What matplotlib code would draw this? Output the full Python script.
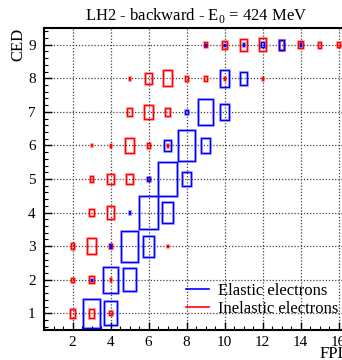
import matplotlib
matplotlib.use("Agg")
import matplotlib.pyplot as plt
from matplotlib.patches import Rectangle
from matplotlib.lines import Line2D
from matplotlib.ticker import MultipleLocator

plt.rcParams['font.family'] = ['Liberation Serif', 'DejaVu Serif']
plt.rcParams['mathtext.fontset'] = 'custom'
plt.rcParams['mathtext.rm'] = 'Liberation Serif'

# Elastic electrons (blue): FPL, CED, relative bin content
el_fpl = [3, 4, 3, 4, 5, 4, 5, 6, 5, 6, 7, 6, 7, 8, 7, 8, 9, 8, 9, 10, 10, 11, 9, 10, 11, 12, 13, 14]
el_ced = [1, 1, 2, 2, 2, 3, 3, 3, 4, 4, 4, 5, 5, 5, 6, 6, 6, 7, 7, 7, 8, 8, 9, 9, 9, 9, 9, 9]
el_val = [0.87, 0.72, 0.05, 0.77, 0.67, 0.10, 0.92, 0.62, 0.10, 1.00, 0.62, 0.14, 1.00, 0.44,
          0.35, 0.92, 0.47, 0.11, 0.78, 0.50, 0.50, 0.38, 0.06, 0.06, 0.09, 0.14, 0.29, 0.10]

# Inelastic electrons (red)
in_fpl = [2, 3, 4, 2, 3, 4, 2, 3, 4, 7, 3, 4, 3, 4, 5, 6,
          3, 4, 5, 6, 7, 5, 6, 7, 5, 6, 7, 8, 9, 10, 12,
          9, 10, 11, 12, 13, 14, 15, 16]
in_ced = [1, 1, 1, 2, 2, 2, 3, 3, 3, 3, 4, 4, 5, 5, 5, 5,
          6, 6, 6, 6, 6, 7, 7, 7, 8, 8, 8, 8, 8, 8, 8,
          9, 9, 9, 9, 9, 9, 9, 9]
in_val = [0.27, 0.27, 0.12, 0.12, 0.22, 0.10, 0.16, 0.48, 0.12, 0.08, 0.22, 0.41, 0.17, 0.32, 0.32, 0.06,
          0.06, 0.10, 0.47, 0.15, 0.10, 0.25, 0.43, 0.22, 0.10, 0.34, 0.47, 0.16, 0.16, 0.08, 0.08,
          0.16, 0.25, 0.35, 0.38, 0.30, 0.22, 0.18, 0.15]

x_ticks = [2, 4, 6, 8, 10, 12, 14, 16]
y_ticks = [1, 2, 3, 4, 5, 6, 7, 8, 9]

fig = plt.figure(figsize=(3.42, 3.6), dpi=100)
ax = fig.add_axes([44 / 342, 30 / 360, 304 / 342, 302 / 360])
ax.set_xlim(0.5, 16.5)
ax.set_ylim(0.5, 9.5)

ax.grid(True, which='major', linestyle=(0, (1, 1.5)), color='#444444', lw=0.9, zorder=0)
ax.set_axisbelow(True)


def draw_boxes(xs, ys, vs, color):
    for x, y, v in zip(xs, ys, vs):
        halo = Rectangle((x - v / 2, y - v / 2), v, v, fill=False, edgecolor=color,
                         lw=2.2, alpha=0.28, zorder=2)
        box = Rectangle((x - v / 2, y - v / 2), v, v, fill=False, edgecolor=color,
                        lw=1.0, zorder=3)
        ax.add_patch(halo)
        ax.add_patch(box)


draw_boxes(in_fpl, in_ced, in_val, '#ff0000')
draw_boxes(el_fpl, el_ced, el_val, '#0000ff')

ax.set_xticks(x_ticks)
ax.set_yticks(y_ticks)
ax.xaxis.set_minor_locator(MultipleLocator(0.5))
ax.yaxis.set_minor_locator(MultipleLocator(0.2))
ax.tick_params(which='both', direction='in', top=False, right=False, labelsize=11)
ax.tick_params(which='major', length=6, width=1.0)
ax.tick_params(which='minor', length=3, width=0.8)
ax.tick_params(axis='y', pad=6)
ax.tick_params(axis='x', pad=4)
for s in ax.spines.values():
    s.set_linewidth(1.5)

ax.set_xlabel('FPL', fontsize=12, loc='right', labelpad=-2)
ax.set_ylabel('CED', fontsize=12, loc='top', labelpad=1)
ax.set_title('LH2 - backward - E$_0$ = 424 MeV', fontsize=12, pad=6)

handles = [Line2D([], [], color='#0000ff', lw=1.2), Line2D([], [], color='#ff0000', lw=1.2)]
ax.legend(handles, ['Elastic electrons', 'Inelastic electrons'], loc='upper left',
          bbox_to_anchor=(0.467, 0.155), frameon=False, fontsize=12, handlelength=1.4,
          handletextpad=0.5, labelspacing=0.1, borderpad=0, borderaxespad=0)

fig.savefig('out.png', dpi=100)
